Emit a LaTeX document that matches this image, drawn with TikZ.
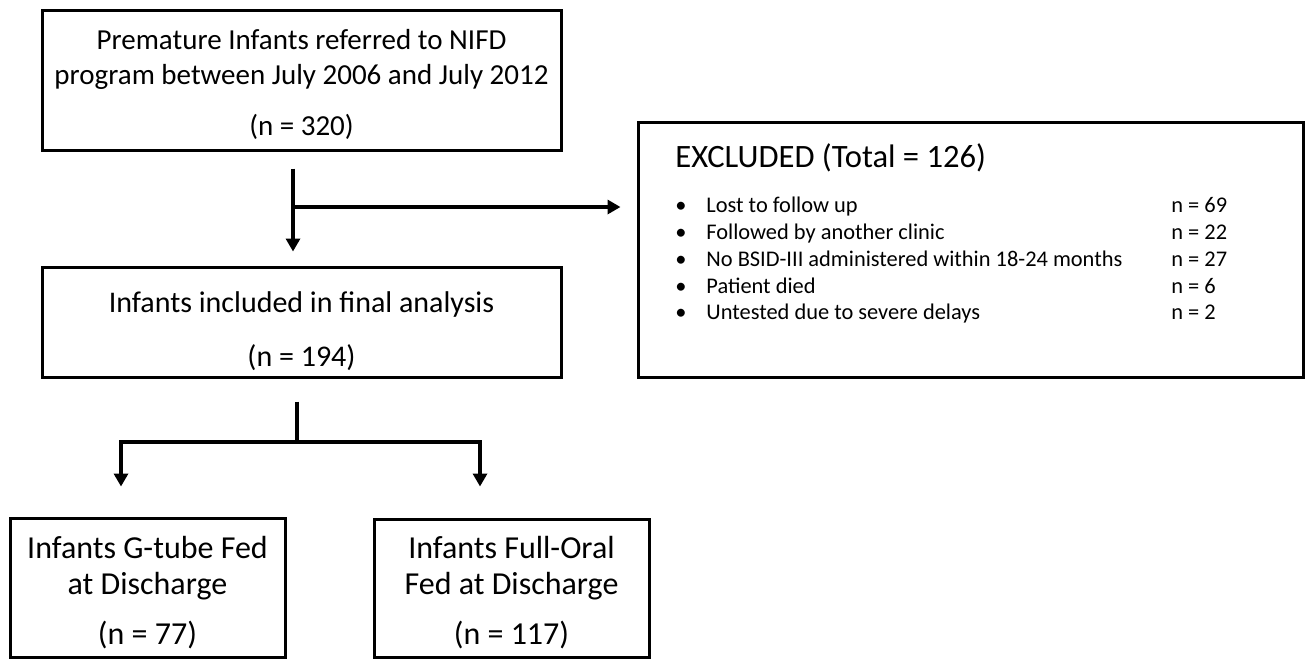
\documentclass[tikz,border=0pt]{standalone}
\usepackage{fontspec}
\setmainfont{Carlito}
\usetikzlibrary{arrows.meta,positioning}

\tikzset{
  box/.style={draw, line width=1.5pt, align=center, inner sep=0pt},
  arr/.style={line width=2pt, -{Triangle[width=7pt,length=6.5pt]}},
  trunk/.style={line width=2pt},
  listtext/.style={anchor=base west, inner sep=0pt, font=\fontsize{11.2}{13}\selectfont},
}

\begin{document}
\begin{tikzpicture}[x=0.5pt, y=-0.5pt]
	\useasboundingbox (0,0) rectangle (1309,661);

	% Main column
	\node[box, minimum width=259.5pt, minimum height=70pt, font=\fontsize{14.5}{17.5}\selectfont] (referred) at (301.5,80)
		{\rule{0pt}{14pt}Premature Infants referred to NIFD\\program between July 2006 and July 2012\\[8pt](n = 320)};
	\node[box, minimum width=259.5pt, minimum height=55pt, font=\fontsize{15}{18}\selectfont] (included) at (301.5,322)
		{\rule{0pt}{20pt}Infants included in final analysis\\[9pt](n = 194)};

	% Outcome boxes
	\node[box, minimum width=137.5pt, minimum height=69.5pt, font=\fontsize{16}{18}\selectfont] (gtube) at (147.5,587.5)
		{\rule{0pt}{16pt}Infants G-tube Fed\\at Discharge\\[7pt](n = 77)};
	\node[box, minimum width=137.5pt, minimum height=69pt, font=\fontsize{16}{18}\selectfont] (oral) at (511.5,588)
		{\rule{0pt}{16pt}Infants Full-Oral\\Fed at Discharge\\[7pt](n = 117)};

	% Excluded box
	\node[box, minimum width=332.5pt, minimum height=127.5pt] (excluded) at (970.5,249.5) {};
	\node[anchor=west, inner sep=0pt, font=\fontsize{16.3}{19}\selectfont] (exhead) at (675,158) {EXCLUDED (Total = 126)};
	\foreach \reason/\nval [count=\i] in {Lost to follow up/69, Followed by another clinic/22,
		No BSID-III administered within 18-24 months/27, Patient died/6, Untested due to severe delays/2} {
		\node[listtext] (bul\i) at (675,186+26.75*\i) {•};
		\node[listtext] (why\i) at (706,186+26.75*\i) {\reason};
		\node[listtext] (cnt\i) at (1171,186+26.75*\i) {n = \nval};
	}

	% Connectors
	\coordinate (branch) at (293,207);
	\coordinate (fork) at (297,442);
	\draw[arr, shorten <=8.5pt, shorten >=7pt] ([xshift=-4.25pt]referred.south) -- ([xshift=-4.25pt]included.north);
	\draw[arr, shorten >=8pt] (branch) -- (branch -| excluded.west);
	\draw[trunk, shorten <=11.5pt] ([xshift=-2.25pt]included.south) -- (fork);
	\draw[arr, shorten >=15pt] (fork) -| ([xshift=-13.25pt]gtube.north);
	\draw[arr, shorten >=15.5pt] (fork) -| ([xshift=-15.75pt]oral.north);

\end{tikzpicture}
\end{document}
